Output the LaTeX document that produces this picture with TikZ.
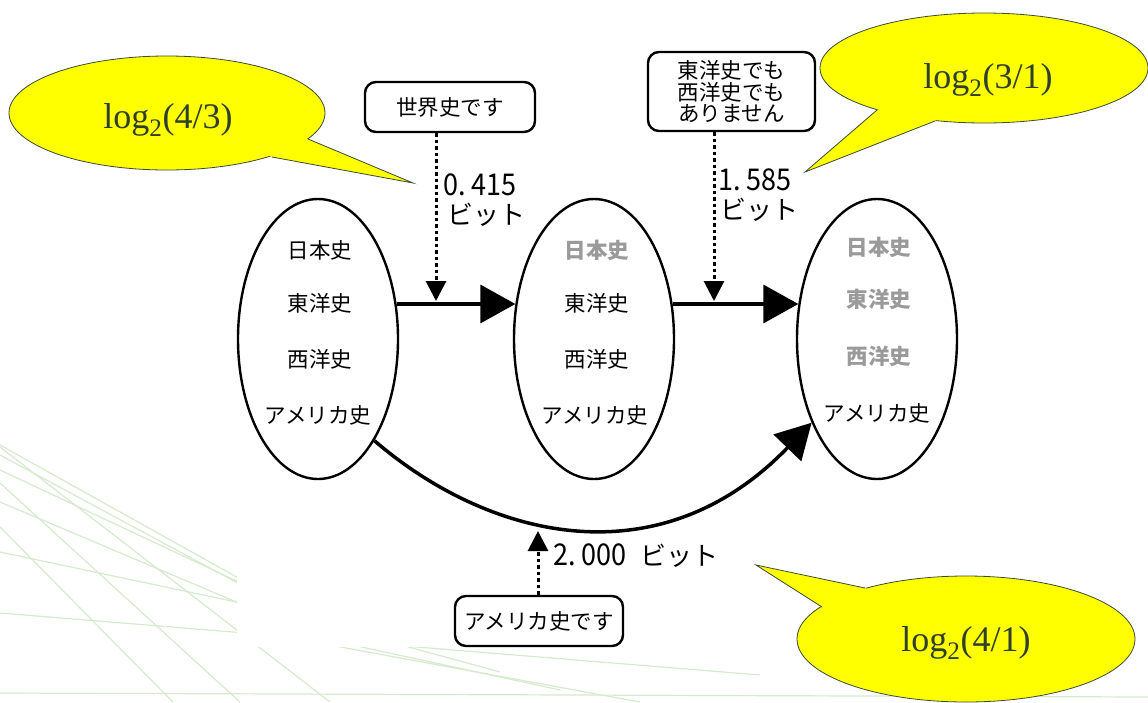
\documentclass[tikz,border=0pt]{standalone}
\usepackage{fontspec}
\setmainfont{Noto Sans CJK JP}
\newfontfamily\tms{Liberation Serif}
\newfontfamily\dig{Noto Sans CJK JP}[FakeStretch=0.9]
\usetikzlibrary{arrows.meta,shapes.geometric}
\definecolor{callfill}{HTML}{FFFF00}
\definecolor{callline}{HTML}{3A4A3A}
\definecolor{calltext}{HTML}{2E3F2E}
\definecolor{bgline}{HTML}{D6EBCE}
\definecolor{dimtext}{HTML}{9A9A9A}
\tikzset{
  ell/.style={ellipse, draw, line width=2.4pt, minimum width=160pt, minimum height=280pt, inner sep=0pt},
  item/.style={font=\fontsize{21.5}{24}\selectfont, inner sep=0pt},
  dimitem/.style={font=\fontsize{21.5}{24}\selectfont\bfseries, text=dimtext, inner sep=0pt},
  msg/.style={draw, line width=2.4pt, rounded corners=11pt, inner sep=0pt, align=center, fill=white,
     font=\fontsize{21.5}{21.5}\selectfont},
  flow/.style={line width=3.5pt, -{Triangle[length=35pt,width=38pt]}},
  hint/.style={line width=3pt, dash pattern=on 3.5pt off 3pt, -{Triangle[length=20pt,width=20pt]}},
  bits/.style={font=\fontsize{26}{30}\selectfont, inner sep=0pt, anchor=west},
  callout/.style={ellipse, fill=callfill, draw=callline, line width=0.8pt, inner sep=0pt},
  pointer/.style={draw=callline, line width=0.8pt, line join=miter},
  calltxt/.style={text=calltext, font=\tms\fontsize{36}{40}\selectfont, inner sep=0pt},
  bg/.style={draw=bgline, line width=1.2pt},
}
\newcommand{\num}[1]{{\dig\fontsize{30}{30}\selectfont #1}}
\begin{document}
\begin{tikzpicture}[x=1pt,y=-1pt]
\useasboundingbox (0,0) rectangle (1148,702);
% background decoration
\fill[white] (0,0) rectangle (1148,702);
\draw[bg] (0,445) -- (260,590);
\draw[bg] (0,455) -- (260,595);
\draw[bg] (0,470) -- (260,592);
\draw[bg] (0,502) -- (260,612);
\draw[bg] (0,552) -- (260,607);
\draw[bg] (0,613) -- (760,675);
\draw[bg] (0,447) -- (330,702);
\draw[bg] (0,483) -- (240,702);
\draw[bg] (0,527) -- (173,702);
\draw[bg] (0,693) -- (1148,697);
\draw[bg] (237,620) -- (560,690);
\draw[bg] (237,628) -- (640,702);
\draw[bg] (237,600) -- (500,672);
\fill[white] (237,0) rectangle (1148,647);

% sets
\node[ell] (e1) at (318,339) {};
\node[ell] (e2) at (594,339) {};
\node[ell] (e3) at (877,339) {};

\node[item] (e1a) at (320,250) {日本史};
\node[item] (e1b) at (320,303) {東洋史};
\node[item] (e1c) at (320,359) {西洋史};
\node[item] (e1d) at (318,415) {アメリカ史};

\node[dimitem] (e2a) at (597,250) {日本史};
\node[item] (e2b) at (597,303) {東洋史};
\node[item] (e2c) at (597,359) {西洋史};
\node[item] (e2d) at (595,415) {アメリカ史};

\node[dimitem] (e3a) at (879,247) {日本史};
\node[dimitem] (e3b) at (879,299) {東洋史};
\node[dimitem] (e3c) at (879,356) {西洋史};
\node[item] (e3d) at (877,413) {アメリカ史};

% main arrows
\draw[flow] (e1.24) -- (e2.156);
\draw[flow] (e2.24) -- (e3.156);
\draw[flow] (e1.-61) .. controls (490,540) and (660,580) .. (e3.232);

% messages
\node[msg, minimum width=170pt, minimum height=50pt] (b1) at (450,107) {世界史です};
\node[msg, minimum width=167pt, minimum height=79pt] (b2) at (731.5,91.5) {東洋史でも\\西洋史でも\\ありません};
\node[msg, minimum width=168pt, minimum height=50pt] (b3) at (539,621) {アメリカ史です};

\coordinate (d1) at (436,301);
\coordinate (d2) at (714,301);
\coordinate (d3) at (538,531);
\draw[hint] (b1.south -| d1) -- (d1);
\draw[hint] (b2.south -| d2) -- (d2);
\draw[hint] (b3.north -| d3) -- (d3);

% bit labels
\node[bits] (l1a) at (443,185) {\num{0.\kern6pt415}};
\node[bits] (l1b) at (447,215) {ビット};
\node[bits] (l2a) at (718,180) {\num{1.\kern6pt585}};
\node[bits] (l2b) at (720,210) {ビット};
\node[bits] (l3) at (553,556) {\num{2.\kern6pt000}\hspace{14pt}ビット};

% callouts
\node[callout, minimum width=316pt, minimum height=114pt] (c1) at (167,113) {};
\fill[callfill] (308,139) -- (413,183) -- (272,157) -- (c1.center) -- cycle;
\draw[pointer] (308,139) -- (413,183) -- (272,157);
\node[calltxt] (t1) at (168,120) {log\textsubscript{2}(4/3)};

\node[callout, minimum width=328pt, minimum height=110pt] (c2) at (984,68) {};
\fill[callfill] (877,110) -- (805,172) -- (935,121) -- (c2.center) -- cycle;
\draw[pointer] (877,110) -- (805,172) -- (935,121);
\node[calltxt] (t2) at (988,80) {log\textsubscript{2}(3/1)};

\node[callout, minimum width=338pt, minimum height=126pt] (c3) at (966,639) {};
\fill[callfill] (865,588) -- (756,565) -- (822,607) -- (c3.center) -- cycle;
\draw[pointer] (865,588) -- (756,565) -- (822,607);
\node[calltxt] (t3) at (966,643) {log\textsubscript{2}(4/1)};
\end{tikzpicture}
\end{document}
